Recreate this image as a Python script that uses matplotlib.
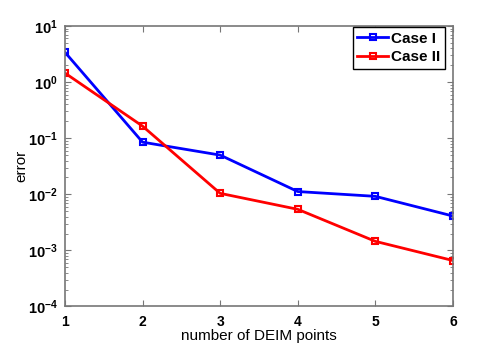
import matplotlib
matplotlib.use('Agg')
import matplotlib.pyplot as plt
from matplotlib.ticker import FuncFormatter, LogLocator
import numpy as np

plt.rcParams['font.family'] = ['Liberation Sans', 'DejaVu Sans']
plt.rcParams['mathtext.fontset'] = 'custom'
plt.rcParams['mathtext.rm'] = 'Liberation Sans:bold'
plt.rcParams['mathtext.bf'] = 'Liberation Sans:bold'
plt.rcParams['mathtext.it'] = 'Liberation Sans:bold'

# number of DEIM points and errors
points = [1, 2, 3, 4, 5, 6]
err_case1 = [3.4, 0.085, 0.05, 0.0112, 0.0092, 0.0041]
err_case2 = [1.45, 0.164, 0.0104, 0.0054, 0.00145, 0.00066]

fig = plt.figure(figsize=(4.98, 3.45), dpi=100)
ax = fig.add_axes([0.1305, 0.1116, 0.779, 0.813])

ax.semilogy(points, err_case1, 's-', color='#0000ff', lw=2, ms=5,
            mfc='none', mew=1.5, label='Case I')
ax.semilogy(points, err_case2, 's-', color='#ff0000', lw=2, ms=5,
            mfc='none', mew=1.5, label='Case II')

ax.set_xlim(1, 6)
ax.set_ylim(1e-4, 1e1)
ax.set_xticks(points)
ax.yaxis.set_major_locator(LogLocator(base=10, numticks=10))
ax.yaxis.set_major_formatter(FuncFormatter(lambda v, p: r'$\mathbf{10^{%d}}$' % round(np.log10(v))))
ax.set_xlabel('number of DEIM points', fontsize=11, labelpad=0)
ax.set_ylabel('error', fontsize=11, labelpad=0)

for s in ax.spines.values():
    s.set_color('#777777')
    s.set_linewidth(1.2)
ax.tick_params(which='both', direction='in', top=True, right=True, colors='#777777',
               labelcolor='black')
ax.tick_params(which='major', length=4)
ax.tick_params(which='minor', length=2)
ax.tick_params(axis='x', labelsize=10, pad=6)
ax.tick_params(axis='y', labelsize=10.5, pad=5)
for lab in ax.get_xticklabels():
    lab.set_fontweight('bold')

leg = ax.legend(loc='upper right', bbox_to_anchor=((445 - 65) / 388, 1 - 1 / 280),
                fancybox=False, edgecolor='black', framealpha=1,
                prop={'weight': 'bold', 'size': 11},
                handlelength=2.0, handletextpad=0.2, borderpad=0.3,
                labelspacing=0.3, borderaxespad=0)
leg.get_frame().set_linewidth(1.0)

fig.savefig('out.png', dpi=100)
